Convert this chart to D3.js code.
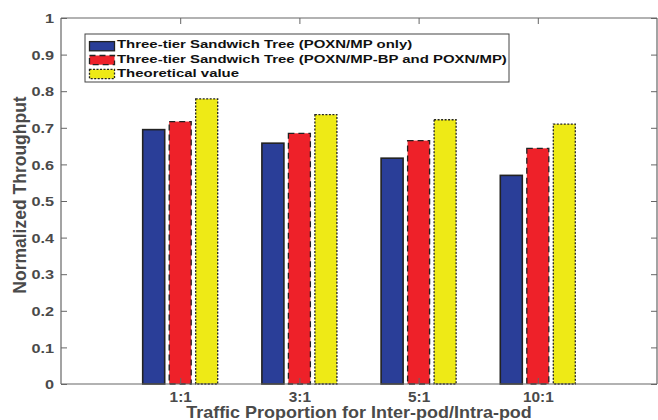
<!DOCTYPE html>
<html><head><meta charset="utf-8">
<script src="https://cdn.jsdelivr.net/npm/d3@7"></script>
<style>body{margin:0;background:#fff}svg{display:block}</style>
</head><body>
<svg id="c" width="658" height="420"></svg>
<script>
const categories = ["1:1","3:1","5:1","10:1"];
const seriesNames = ["Three-tier Sandwich Tree (POXN/MP only)","Three-tier Sandwich Tree (POXN/MP-BP and POXN/MP)","Theoretical value"];
const blueValues = [0.695,0.658,0.617,0.570];
const redValues = [0.717,0.685,0.665,0.644];
const yellowValues = [0.779,0.736,0.722,0.710];
const yTicks = [0,0.1,0.2,0.3,0.4,0.5,0.6,0.7,0.8,0.9,1];

const series = [blueValues, redValues, yellowValues];
const fills = ["#2a3e98","#ee2129","#eeea16"];
const dashes = [null,"6,4","2,1.5"];
const svg = d3.select("#c");
const L=61, R=657, T=18, B=384;
const x = d3.scaleLinear().domain([0,5]).range([L,R]);
const y = d3.scaleLinear().domain([0,1]).range([B,T]);
const axisCol="#666", txtCol="#4a4a4a";
const font="'Liberation Sans', Arial, sans-serif";
const bw = 22, off = 26.5;

// bars
series.forEach((vals,si)=>{
  svg.append("g").selectAll("rect").data(vals).join("rect")
    .attr("x",(d,i)=>x(i+1)+(si-1)*off-bw/2)
    .attr("y",d=>y(d))
    .attr("width",bw)
    .attr("height",d=>y(0)-y(d))
    .attr("fill",fills[si])
    .attr("stroke","#222")
    .attr("stroke-width",si===0?1.6:1.3)
    .attr("stroke-dasharray",dashes[si]);
});

// axes box
const g = svg.append("g").attr("fill","none").attr("stroke",axisCol).attr("stroke-width",1.2);
g.append("line").attr("x1",L).attr("x2",R).attr("y1",B).attr("y2",B);
g.append("line").attr("x1",L).attr("x2",R).attr("y1",T).attr("y2",T);
g.append("line").attr("x1",L).attr("x2",L).attr("y1",T).attr("y2",B);
g.append("line").attr("x1",R).attr("x2",R).attr("y1",T).attr("y2",B);

// y axis
const ysx = 1.25;
const yAxis = d3.axisLeft(y).tickValues(yTicks).tickSize(-6)
  .tickFormat(d=>d===0?"0":(d===1?"1":d3.format(".1f")(d)));
const ya = svg.append("g").attr("transform",`translate(${L},0)`).call(yAxis);
ya.select(".domain").remove();
ya.selectAll("line").attr("stroke",axisCol);
ya.selectAll("text").attr("fill",txtCol).attr("x",0).attr("dy","0.36em")
  .attr("transform",`translate(-7,0) scale(${ysx},1)`).style("font",`bold 13px ${font}`);
// right ticks
const yr = svg.append("g").attr("transform",`translate(${R},0)`).call(d3.axisRight(y).tickValues(yTicks).tickSize(-6).tickFormat(""));
yr.select(".domain").remove();
yr.selectAll("line").attr("stroke",axisCol);

// x axis
const xsx = 1.1;
const xAxis = d3.axisBottom(x).tickValues([1,2,3,4]).tickSize(-6).tickFormat((d)=>categories[d-1]);
const xa = svg.append("g").attr("transform",`translate(0,${B})`).call(xAxis);
xa.select(".domain").remove();
xa.selectAll("line").attr("stroke",axisCol);
xa.selectAll("text").attr("fill",txtCol).attr("y",0).attr("dy",null)
  .attr("transform",`translate(0,18) scale(${xsx},1)`).style("font",`bold 14px ${font}`);
const xt = svg.append("g").attr("transform",`translate(0,${T})`).call(d3.axisTop(x).tickValues([1,2,3,4]).tickSize(-6).tickFormat(""));
xt.select(".domain").remove();
xt.selectAll("line").attr("stroke",axisCol);

function fitWidth(sel, target){
  const w = sel.node().getComputedTextLength();
  return target / w;
}

// x label
const xl = svg.append("text").attr("x",0).attr("y",0).attr("text-anchor","middle")
  .attr("fill",txtCol).style("font",`bold 16px ${font}`).text("Traffic Proportion for Inter-pod/Intra-pod");
xl.attr("transform",`translate(359,417.5) scale(${fitWidth(xl,346)},1)`);

// y label
svg.append("text").attr("transform",`translate(26,195) rotate(-90)`).attr("text-anchor","middle")
  .attr("fill",txtCol).style("font",`bold 17.5px ${font}`).text("Normalized Throughput");

// legend
const lg = svg.append("g");
lg.append("rect").attr("x",85).attr("y",34).attr("width",424).attr("height",48)
  .attr("fill","#fff").attr("stroke","#444").attr("stroke-width",1);
const texts = [];
seriesNames.forEach((n,i)=>{
  const cy = 46.2 + i*13.9;
  lg.append("rect").attr("x",89.5).attr("y",cy-4.6).attr("width",25).attr("height",9.2)
    .attr("fill",fills[i]).attr("stroke","#222").attr("stroke-width",1.3).attr("stroke-dasharray",dashes[i]);
  texts.push(lg.append("text").attr("x",0).attr("y",0).attr("fill","#111")
    .style("font",`bold 11.5px ${font}`).text(n).attr("data-y", 48.4 + i*14.1));
});
const lsx = fitWidth(texts[1], 390);
texts.forEach(t=>t.attr("transform",`translate(117,${t.attr("data-y")}) scale(${lsx},1)`));
</script>
</body></html>
